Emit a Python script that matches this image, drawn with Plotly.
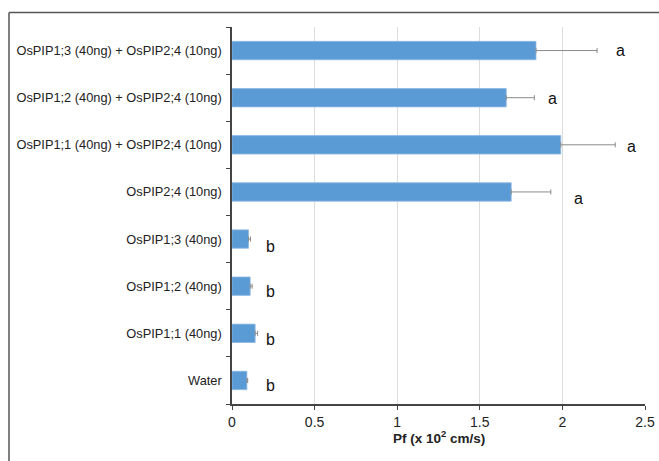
import plotly.graph_objects as go

# Treatments, top to bottom
categories = [
    "OsPIP1;3 (40ng) + OsPIP2;4 (10ng)",
    "OsPIP1;2 (40ng) + OsPIP2;4 (10ng)",
    "OsPIP1;1 (40ng) + OsPIP2;4 (10ng)",
    "OsPIP2;4 (10ng)",
    "OsPIP1;3 (40ng)",
    "OsPIP1;2 (40ng)",
    "OsPIP1;1 (40ng)",
    "Water",
]
pf_values = [1.84, 1.66, 1.99, 1.69, 0.10, 0.11, 0.14, 0.09]
pf_errors = [0.37, 0.17, 0.33, 0.24, 0.012, 0.012, 0.015, 0.005]
letters = ["a", "a", "a", "a", "b", "b", "b", "b"]
# horizontal position of each significance letter (data units)
letter_x = [2.35, 1.94, 2.42, 2.10, 0.23, 0.23, 0.23, 0.23]
letter_shift = [0, -1, -2, -7, -7, -5, -6, -5]
x_title = "<b>Pf (x 10<sup>2</sup> cm/s)</b>"

W, H = 659, 461
L, R, T, B = 232, 14, 27, 57
pw, ph = W - L - R, H - T - B

fig = go.Figure()
fig.add_trace(go.Bar(
    y=categories,
    x=pf_values,
    orientation="h",
    marker=dict(color="#5B9BD5", line=dict(color="#8DB8E3", width=0.8)),
    width=0.39,
    error_x=dict(type="data", array=pf_errors, symmetric=False,
                 arrayminus=[0] * len(pf_errors),
                 color="#8a8a8a", thickness=1, width=2.5),
    showlegend=False,
    hoverinfo="skip",
))

for cat, lx, lt, sh in zip(categories, letter_x, letters, letter_shift):
    fig.add_annotation(x=lx, y=cat, text=lt, showarrow=False, yshift=sh,
                       font=dict(family="Liberation Sans, Arial", size=16, color="#111"))

# x-axis title placed just under the tick labels
fig.add_annotation(xref="paper", yref="paper", x=0.5, y=-(437 - (H - B)) / ph,
                   xanchor="center", yanchor="middle", showarrow=False,
                   text=x_title,
                   font=dict(family="Liberation Sans, Arial", size=13.5, color="#222"))

# outer frame (top and left edges)
x0 = (9 - L) / pw
y0 = 1 + (T - 12.5) / ph
fig.add_shape(type="line", xref="paper", yref="paper", x0=x0, x1=1.2, y0=y0, y1=y0,
              line=dict(color="#555", width=1.5))
fig.add_shape(type="line", xref="paper", yref="paper", x0=x0, x1=x0, y0=y0, y1=-0.3,
              line=dict(color="#555", width=1.5))

fig.update_layout(
    width=W, height=H,
    margin=dict(l=L, r=R, t=T, b=B, autoexpand=False),
    paper_bgcolor="white", plot_bgcolor="white",
    font=dict(family="Liberation Sans, Arial", size=13, color="#333"),
    bargap=0.61,
)
fig.update_xaxes(
    range=[0, 2.5], tickvals=[0, 0.5, 1, 1.5, 2, 2.5],
    ticktext=["0", "0.5", "1", "1.5", "2", "2.5"],
    showgrid=True, gridcolor="#dcdcdc", gridwidth=1,
    showline=True, linecolor="#444", linewidth=1.5,
    ticks="outside", ticklen=4, tickcolor="#444",
    tickfont=dict(size=14, color="#222"), zeroline=False, automargin=False,
)
fig.update_yaxes(
    categoryorder="array", categoryarray=categories[::-1],
    showline=True, linecolor="#444", linewidth=1.5,
    ticks="outside", ticklen=4, tickcolor="#444", tickson="boundaries",
    tickfont=dict(size=12.8, color="#222"), showgrid=False, automargin=False,
    ticklabelstandoff=6,
)

fig.write_html("out.html")
